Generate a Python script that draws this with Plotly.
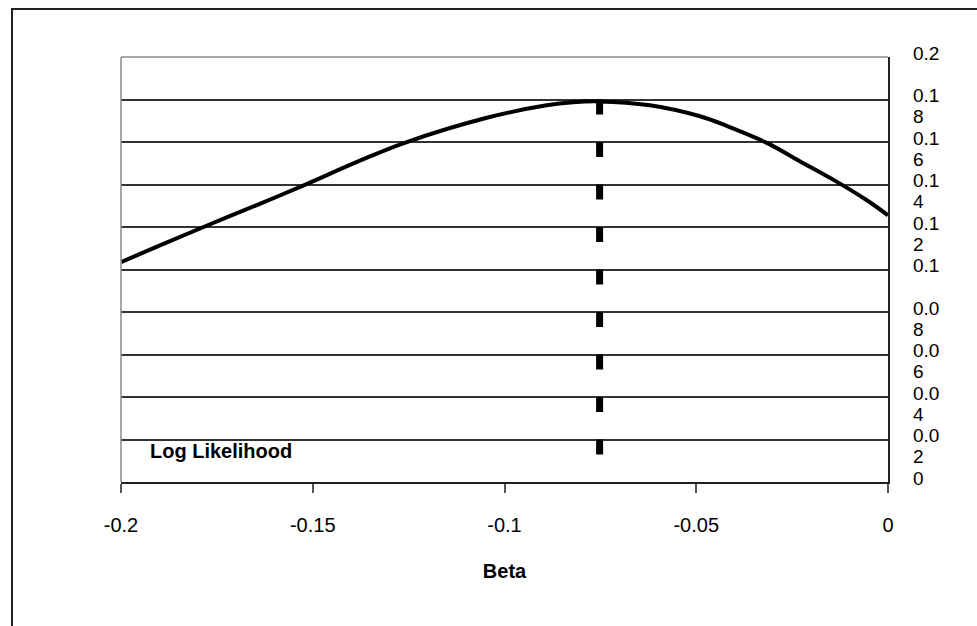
import plotly.graph_objects as go

# ---- data ----
beta = [-0.2, -0.19, -0.1777, -0.1638, -0.1525, -0.1377, -0.1264, -0.1046,
        -0.089, -0.0821, -0.0754, -0.0621, -0.049, -0.0421, -0.0316, -0.023,
        -0.0143, -0.0056, 0.0]
log_lik = [0.1035, 0.1112, 0.1206, 0.1309, 0.1395, 0.1512, 0.1594, 0.1714,
           0.1773, 0.1787, 0.1791, 0.1773, 0.1721, 0.1676, 0.1596, 0.1510,
           0.1423, 0.1327, 0.1255]

beta_mle = -0.0752
mle_line_y = [0.18, 0.0]

xtick_vals = [-0.2, -0.15, -0.1, -0.05, 0]
xtick_text = ["-0.2", "-0.15", "-0.1", "-0.05", "0"]

ytick_vals = [0, 0.02, 0.04, 0.06, 0.08, 0.1, 0.12, 0.14, 0.16, 0.18, 0.2]
ytick_line1 = ["0", "0.0", "0.0", "0.0", "0.0", "0.1", "0.1", "0.1", "0.1", "0.1", "0.2"]
ytick_line2 = ["", "2", "4", "6", "8", "", "2", "4", "6", "8", ""]

series_label = "Log Likelihood"
x_title = "Beta"

FONT = "Arial, 'Liberation Sans', sans-serif"

fig = go.Figure()
fig.add_trace(go.Scatter(
    x=beta, y=log_lik, mode="lines",
    line=dict(color="black", width=4, shape="spline", smoothing=1.0),
    hoverinfo="skip", showlegend=False))
fig.add_trace(go.Scatter(
    x=[beta_mle, beta_mle], y=mle_line_y, mode="lines",
    line=dict(color="black", width=7, dash="15px,27.5px"),
    hoverinfo="skip", showlegend=False))

annotations = []
for v, l1, l2 in zip(ytick_vals, ytick_line1, ytick_line2):
    annotations.append(dict(x=1, xref="paper", y=v, yref="y", text=l1,
                            showarrow=False, xanchor="left", yanchor="middle",
                            xshift=23, yshift=4,
                            font=dict(family=FONT, size=19, color="black")))
    if l2:
        annotations.append(dict(x=1, xref="paper", y=v, yref="y", text=l2,
                                showarrow=False, xanchor="left", yanchor="middle",
                                xshift=23, yshift=-17.25,
                                font=dict(family=FONT, size=19, color="black")))

annotations.append(dict(x=-0.193, y=0.0146, xref="x", yref="y",
                        text="<b>%s</b>" % series_label, showarrow=False,
                        xanchor="left", yanchor="middle",
                        font=dict(family=FONT, size=20, color="black")))

shapes = [
    # outer chart frame (extends beyond the visible page)
    dict(type="rect", xref="paper", yref="paper",
         x0=-0.1421, y0=-0.40, x1=1.15, y1=1.1129,
         line=dict(color="#222", width=2), fillcolor="rgba(0,0,0,0)", layer="below"),
    # grey left and top plot border
    dict(type="line", xref="paper", yref="paper", x0=0, x1=0, y0=0, y1=1,
         line=dict(color="#8a8a8a", width=1.5)),
    dict(type="line", xref="paper", yref="paper", x0=0, x1=1, y0=1, y1=1,
         line=dict(color="#8a8a8a", width=1.5)),
]

fig.update_layout(
    width=977, height=626,
    margin=dict(l=121, r=89, t=57, b=144, pad=0),
    paper_bgcolor="white", plot_bgcolor="white",
    font=dict(family=FONT, size=20, color="black"),
    annotations=annotations, shapes=shapes,
    xaxis=dict(range=[-0.2, 0], tickvals=xtick_vals, ticktext=xtick_text,
               showgrid=False, zeroline=False,
               showline=True, linecolor="#222", linewidth=2,
               ticks="outside", ticklen=9, tickwidth=2, tickcolor="#555",
               ticklabelstandoff=15,
               tickfont=dict(family=FONT, size=20, color="black"),
               title=dict(text="<b>%s</b>" % x_title, standoff=29,
                          font=dict(family=FONT, size=20, color="black"))),
    yaxis=dict(range=[0, 0.2], tickvals=ytick_vals, side="right",
               showticklabels=False, ticks="",
               showgrid=True, gridcolor="#333", gridwidth=1.5,
               zeroline=False, showline=True, linecolor="#222", linewidth=2),
)

fig.write_html("out.html", config={"displayModeBar": False},
               post_script="document.body.style.margin='0';document.body.style.padding='0';")
